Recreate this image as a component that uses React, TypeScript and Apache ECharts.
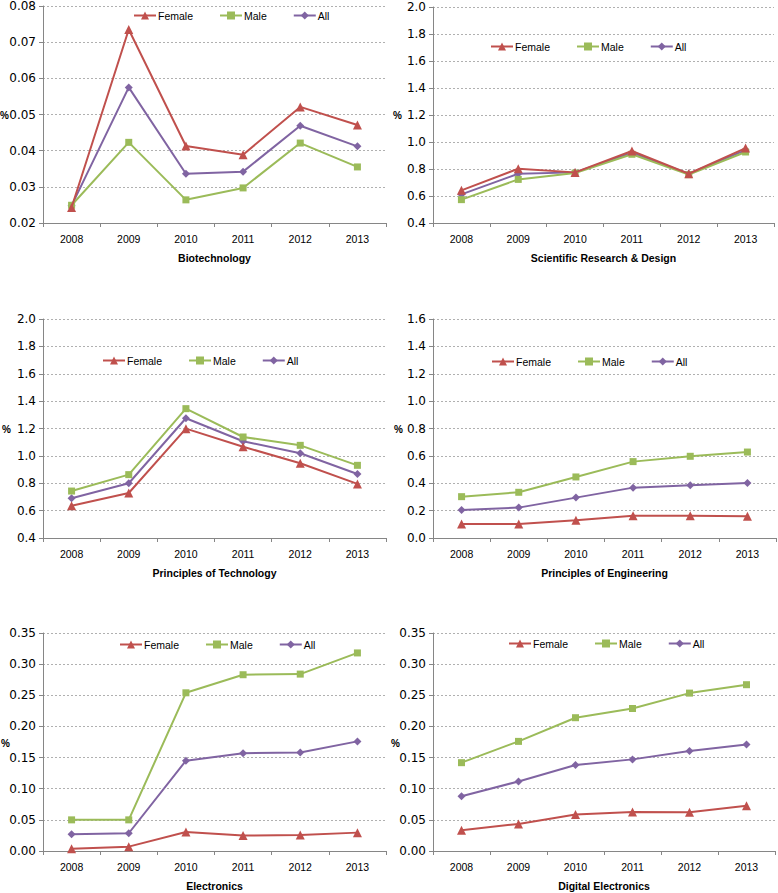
import React, { useEffect, useRef } from "react";
import * as echarts from "echarts";

const years = ["2008", "2009", "2010", "2011", "2012", "2013"];
const seriesNames = ["Female", "Male", "All"];

const bioFemale = [0.0243, 0.0735, 0.0413, 0.0389, 0.0521, 0.0471];
const bioMale = [0.0249, 0.0423, 0.0264, 0.0297, 0.0421, 0.0355];
const bioAll = [0.0248, 0.0575, 0.0336, 0.0342, 0.0469, 0.0412];

const sciFemale = [0.642, 0.802, 0.775, 0.933, 0.765, 0.955];
const sciMale = [0.573, 0.723, 0.77, 0.909, 0.758, 0.926];
const sciAll = [0.612, 0.765, 0.775, 0.92, 0.765, 0.94];

const techFemale = [0.636, 0.729, 1.199, 1.067, 0.946, 0.795];
const techMale = [0.743, 0.863, 1.345, 1.138, 1.077, 0.931];
const techAll = [0.69, 0.8, 1.275, 1.107, 1.019, 0.868];

const engFemale = [0.102, 0.102, 0.129, 0.163, 0.163, 0.158];
const engMale = [0.302, 0.334, 0.446, 0.558, 0.597, 0.628];
const engAll = [0.205, 0.222, 0.295, 0.368, 0.385, 0.402];

const elecFemale = [0.0038, 0.007, 0.0306, 0.0247, 0.0258, 0.0295];
const elecMale = [0.05, 0.05, 0.254, 0.283, 0.284, 0.318];
const elecAll = [0.0269, 0.0285, 0.145, 0.157, 0.158, 0.176];

const digFemale = [0.0333, 0.0435, 0.0585, 0.0628, 0.0623, 0.0725];
const digMale = [0.1418, 0.176, 0.214, 0.2288, 0.2535, 0.267];
const digAll = [0.088, 0.1117, 0.138, 0.1471, 0.1605, 0.1708];

const titles = [
  "Biotechnology",
  "Scientific Research & Design",
  "Principles of Technology",
  "Principles of Engineering",
  "Electronics",
  "Digital Electronics",
];

const panelData = [
  [bioFemale, bioMale, bioAll],
  [sciFemale, sciMale, sciAll],
  [techFemale, techMale, techAll],
  [engFemale, engMale, engAll],
  [elecFemale, elecMale, elecAll],
  [digFemale, digMale, digAll],
];

const yMin = [0.02, 0.4, 0.4, 0, 0, 0];
const yMax = [0.08, 2.0, 2.0, 1.6, 0.35, 0.35];
const yStep = [0.01, 0.2, 0.2, 0.2, 0.05, 0.05];
const yDecimals = [2, 1, 1, 1, 2, 2];

// layout (pixels)
const layout = [
  { left: 43, top: 6, width: 343, height: 217, legendLeft: 133, legendY: 15, pctX: 0, pctY: 115 },
  { left: 433, top: 7, width: 341, height: 216, legendLeft: 490, legendY: 46, pctX: 393, pctY: 115 },
  { left: 43, top: 319, width: 343, height: 219, legendLeft: 102, legendY: 360, pctX: 2, pctY: 429 },
  { left: 433, top: 319, width: 343, height: 219, legendLeft: 491, legendY: 361, pctX: 394, pctY: 429 },
  { left: 43, top: 633, width: 343, height: 218, legendLeft: 119, legendY: 644, pctX: 1, pctY: 743 },
  { left: 433, top: 633, width: 342, height: 218, legendLeft: 508, legendY: 643, pctX: 391, pctY: 743 },
];

const colors = ["#C0504D", "#9BBB59", "#8064A2"];
const symbols = ["triangle", "rect", "diamond"];
const symbolSizes = [9, 7, 8];

const FONT = "'Liberation Sans', Arial, sans-serif";

export default function App() {
  const ref = useRef<HTMLDivElement>(null);

  useEffect(() => {
    if (!ref.current) return;
    document.body.style.margin = "0";
    const chart = echarts.init(ref.current, undefined, { renderer: "svg" });

    const grid = layout.map((l) => ({
      left: l.left,
      top: l.top,
      width: l.width,
      height: l.height,
      containLabel: false,
    }));

    const xAxis = layout.map((_, i) => ({
      type: "category",
      gridIndex: i,
      data: years,
      boundaryGap: true,
      name: titles[i],
      nameLocation: "middle",
      nameGap: 29,
      nameTextStyle: { fontFamily: FONT, fontSize: 10.5, fontWeight: "bold", color: "#000" },
      axisLine: { show: true, lineStyle: { color: "#868686", width: 1 } },
      axisTick: { show: true, length: 4, lineStyle: { color: "#868686" } },
      axisLabel: { fontFamily: FONT, fontSize: 10.5, color: "#000", margin: 10 },
      splitLine: { show: false },
    }));

    const yAxis = layout.map((_, i) => ({
      type: "value",
      gridIndex: i,
      min: yMin[i],
      max: yMax[i],
      interval: yStep[i],
      axisLine: { show: true, lineStyle: { color: "#868686", width: 1 } },
      axisTick: { show: true, length: 4, lineStyle: { color: "#868686" } },
      axisLabel: {
        fontFamily: "'DejaVu Sans', sans-serif",
        fontSize: 12,
        color: "#000",
        margin: 7,
        formatter: (v: number) => v.toFixed(yDecimals[i]),
      },
      splitLine: { show: true, lineStyle: { color: "#b0b0b0", type: [2, 2], width: 1 } },
    }));

    const series: any[] = [];
    panelData.forEach((group, i) => {
      group.forEach((vals, k) => {
        series.push({
          type: "line",
          name: seriesNames[k],
          xAxisIndex: i,
          yAxisIndex: i,
          data: vals,
          symbol: symbols[k],
          symbolSize: symbolSizes[k],
          showSymbol: true,
          lineStyle: { color: colors[k], width: 2 },
          itemStyle: { color: colors[k] },
          z: 3 + (2 - k),
        });
      });
    });

    const legend = layout.map((l) => ({
      left: l.legendLeft,
      top: l.legendY - 5,
      padding: 0,
      itemWidth: 22,
      itemHeight: 10,
      itemGap: 26,
      selectedMode: false,
      data: seriesNames,
      textStyle: { fontFamily: FONT, fontSize: 10.5, color: "#000", padding: [0, 0, 0, -3] },
    }));

    const graphic = layout.map((l) => ({
      type: "text",
      x: l.pctX,
      y: l.pctY,
      style: {
        text: "%",
        fontFamily: FONT,
        fontSize: 10,
        fontWeight: "bold",
        fill: "#000",
        textVerticalAlign: "middle",
      },
    }));

    chart.setOption({
      animation: false,
      backgroundColor: "#ffffff",
      grid,
      xAxis,
      yAxis,
      series,
      legend,
      graphic,
    });

    return () => chart.dispose();
  }, []);

  return (
    <div
      ref={ref}
      style={{ position: "absolute", left: 0, top: 0, width: 778, height: 893 }}
    />
  );
}
